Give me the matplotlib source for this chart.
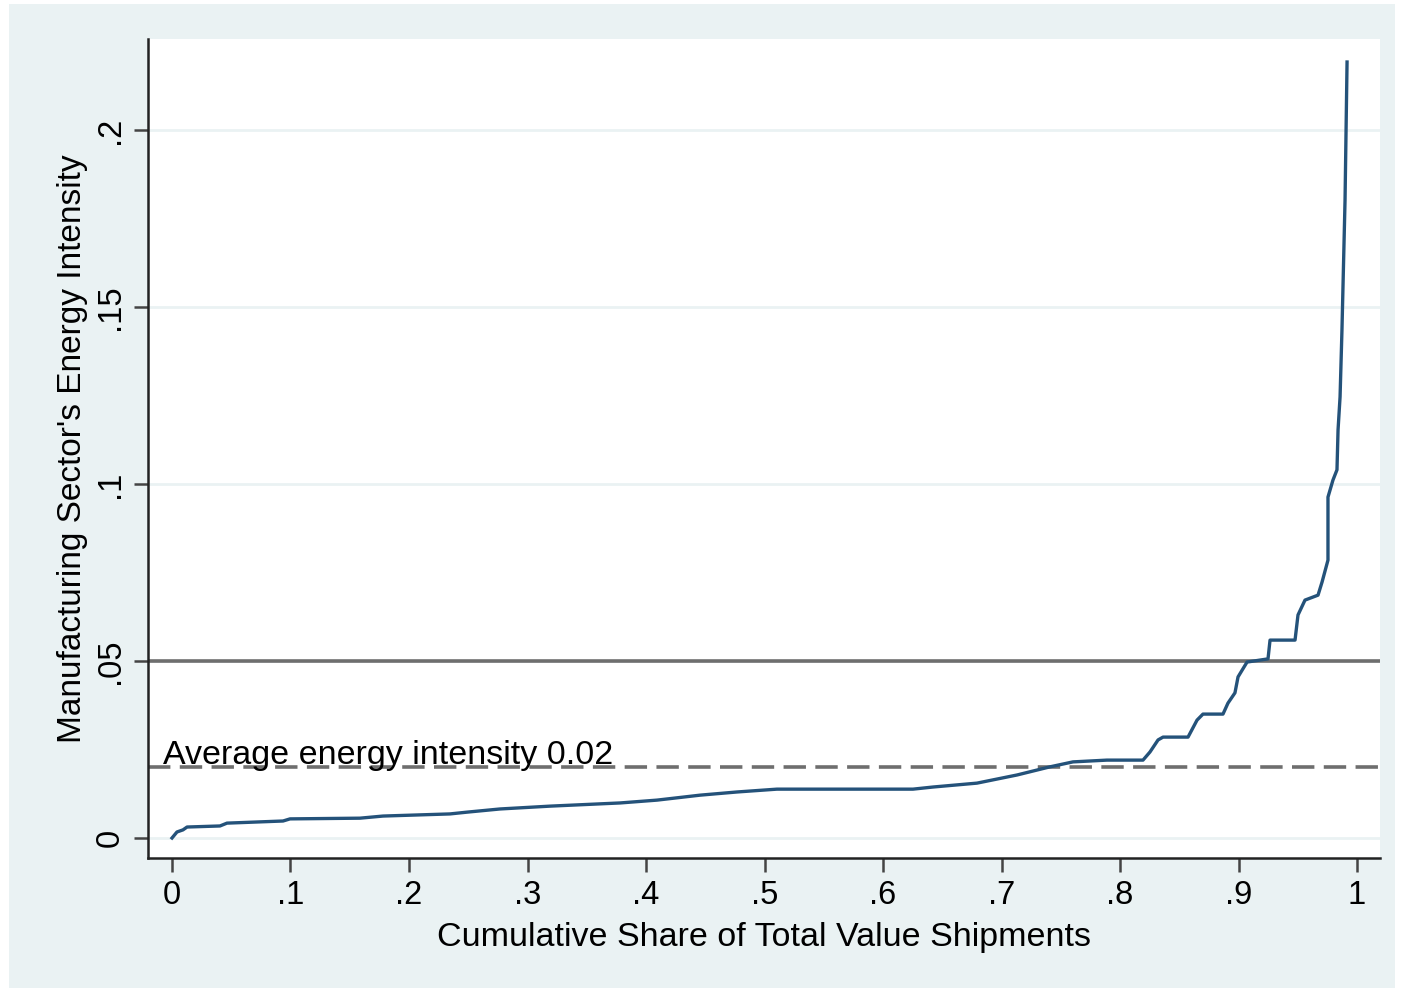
import matplotlib
matplotlib.use("Agg")
import matplotlib.pyplot as plt
from matplotlib.patches import Rectangle

# curva: participación acumulada vs intensidad energética
cum_share = [0.0, 0.0042, 0.0093, 0.0127, 0.0405, 0.0464, 0.0937, 0.0996, 0.1586, 0.1781,
             0.2346, 0.2489, 0.2768, 0.3190, 0.3781, 0.4093, 0.4456, 0.4768, 0.5105, 0.6253,
             0.6422, 0.6793, 0.7131, 0.7409, 0.7603, 0.7890, 0.8194, 0.8253, 0.8321, 0.8363,
             0.8574, 0.8650, 0.8700, 0.8869, 0.8911, 0.8970, 0.8996, 0.9072, 0.9249, 0.9266,
             0.9477, 0.9502, 0.9561, 0.9671, 0.9705, 0.9755, 0.9755, 0.9797, 0.9831, 0.9840,
             0.9857, 0.9873, 0.9899, 0.9916]
intensity = [0.0, 0.0017, 0.0023, 0.0031, 0.0034, 0.0042, 0.0048, 0.0054, 0.0056, 0.0062,
             0.0068, 0.0073, 0.0082, 0.0090, 0.0099, 0.0107, 0.0121, 0.0130, 0.0138, 0.0138,
             0.0144, 0.0155, 0.0178, 0.0201, 0.0215, 0.0220, 0.0220, 0.0243, 0.0277, 0.0285,
             0.0285, 0.0333, 0.0350, 0.0350, 0.0381, 0.0410, 0.0455, 0.0497, 0.0506, 0.0559,
             0.0559, 0.0630, 0.0672, 0.0686, 0.0723, 0.0785, 0.0963, 0.1011, 0.1040, 0.1153,
             0.1246, 0.1435, 0.1802, 0.2192]

threshold = 0.05
average = 0.02
x_ticks = [0, 0.1, 0.2, 0.3, 0.4, 0.5, 0.6, 0.7, 0.8, 0.9, 1.0]
x_labels = ["0", ".1", ".2", ".3", ".4", ".5", ".6", ".7", ".8", ".9", "1"]
y_ticks = [0, 0.05, 0.1, 0.15, 0.2]
y_labels = ["0", ".05", ".1", ".15", ".2"]

plt.rcParams['font.family'] = ['Liberation Sans', 'DejaVu Sans']

fig = plt.figure(figsize=(14.04, 9.9), dpi=100, facecolor='white')
# fondo azul claro estilo Stata
fig.patches.append(Rectangle((9 / 1404, 1 - 988 / 990), (1395 - 9) / 1404, (988 - 4) / 990,
                             transform=fig.transFigure, facecolor='#eaf2f3',
                             edgecolor='none', zorder=0))

ax = fig.add_axes([148 / 1404, 1 - 858 / 990, (1380 - 148) / 1404, (858 - 39) / 990])
ax.set_facecolor('white')
ax.set_zorder(1)

for y in y_ticks:
    ax.axhline(y, color='#eaf2f3', lw=2, zorder=1)

ax.axhline(threshold, color='#6e6e6e', lw=2.6, zorder=2)
ax.axhline(average, color='#6e6e6e', lw=2.6, ls=(0, (6.2, 2.6)), zorder=2)
ax.text(-0.0076, 0.0209, "Average energy intensity 0.02", fontsize=24.5,
        ha='left', va='baseline', color='black', zorder=4)

ax.plot(cum_share, intensity, color='#24527a', lw=2.4, zorder=3)

ax.set_xlim(-0.02025, 1.0194)
ax.set_ylim(-0.00565, 0.2257)
ax.set_xticks(x_ticks)
ax.set_xticklabels(x_labels)
ax.set_yticks(y_ticks)
ax.set_yticklabels(y_labels, rotation=90, va='center')

ax.spines['top'].set_visible(False)
ax.spines['right'].set_visible(False)
for s in ['left', 'bottom']:
    ax.spines[s].set_linewidth(1.8)
    ax.spines[s].set_color('#222222')
ax.tick_params(axis='both', length=10, width=1.8, color='#444444', labelsize=23.5, pad=6)

ax.set_xlabel("Cumulative Share of Total Value Shipments", fontsize=24.5, labelpad=8)
ax.set_ylabel("Manufacturing Sector's Energy Intensity", fontsize=24, labelpad=5)

fig.savefig("out.png", dpi=100, facecolor='white')
